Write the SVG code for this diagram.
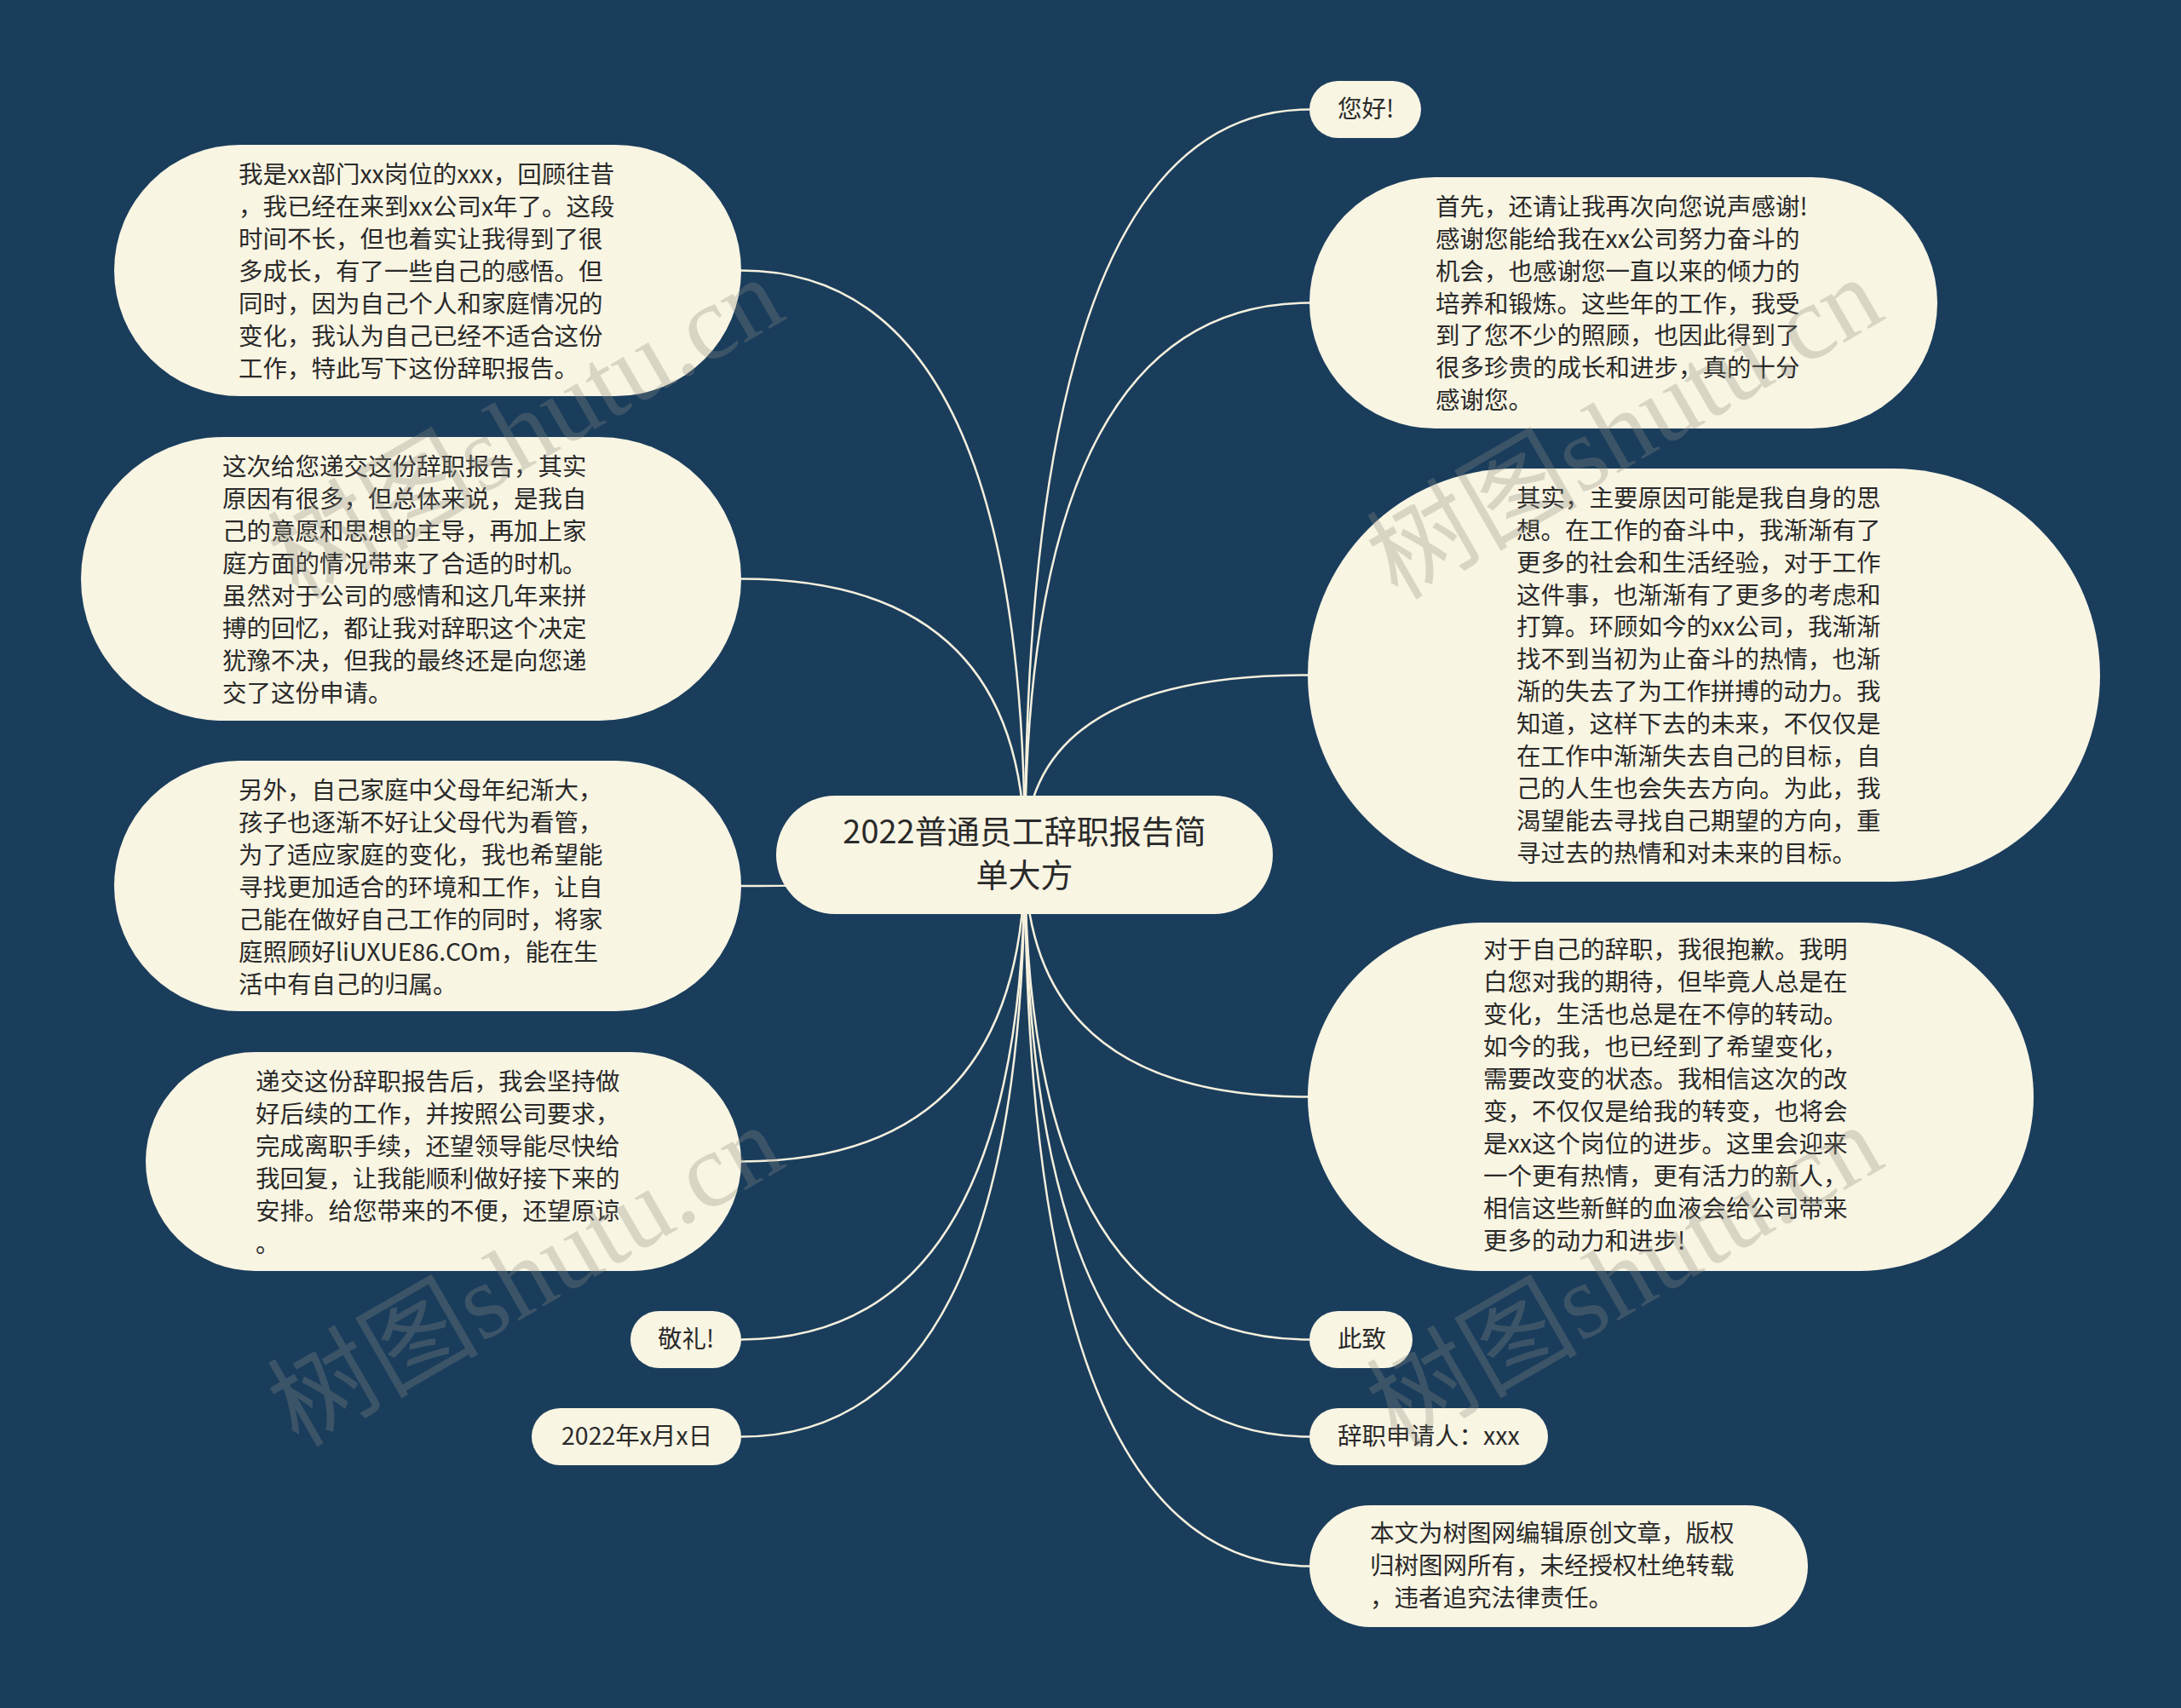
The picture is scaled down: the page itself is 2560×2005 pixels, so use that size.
<svg xmlns="http://www.w3.org/2000/svg" width="2560" height="2005" viewBox="0 0 2560 2005">
<defs>
<style>
.bg{fill:#1a3d5c}
.node{fill:#f9f5e3}
.t{font-family:"Noto Sans CJK SC","Noto Sans",sans-serif;font-size:28.5px;fill:#2a2a2a}
.root{font-size:38px;text-anchor:middle}
.edge{fill:none;stroke:#f5f0dd;stroke-width:2.5}
.wm{font-family:"Liberation Serif","Noto Sans CJK SC",serif;font-size:124px;fill:#8a8a80;fill-opacity:0.3}
</style>
</defs>
<rect class="bg" x="0" y="0" width="2560" height="2005"/>
<g id="connectors">
<path class="edge" d="M1203 1003.5 Q1203 317.5 870 317.5"/>
<path class="edge" d="M1203 1003.5 Q1203 679.5 870 679.5"/>
<path class="edge" d="M1203 1003.5 Q1203 1040 870 1040"/>
<path class="edge" d="M1203 1003.5 Q1203 1363.5 870 1363.5"/>
<path class="edge" d="M1203 1003.5 Q1203 1572.5 870 1572.5"/>
<path class="edge" d="M1203 1003.5 Q1203 1686.5 870 1686.5"/>
<path class="edge" d="M1203 1003.5 Q1203 128.5 1537 128.5"/>
<path class="edge" d="M1203 1003.5 Q1203 355.5 1537 355.5"/>
<path class="edge" d="M1203 1003.5 Q1203 792.5 1535 792.5"/>
<path class="edge" d="M1203 1003.5 Q1203 1287.5 1535 1287.5"/>
<path class="edge" d="M1203 1003.5 Q1203 1572.5 1537 1572.5"/>
<path class="edge" d="M1203 1003.5 Q1203 1686.5 1537 1686.5"/>
<path class="edge" d="M1203 1003.5 Q1203 1838.5 1537 1838.5"/>
</g>
<g id="root">
<rect class="node" x="911" y="934" width="583" height="139" rx="69.5"/>
<text class="t root" x="1202.5" y="990">2022普通员工辞职报告简</text>
<text class="t root" x="1202.5" y="1041">单大方</text>
</g>
<g id="node-l1">
<rect class="node" x="134" y="170" width="736" height="295" rx="147.5"/>
<text class="t" x="280"><tspan x="280" y="215">我是xx部门xx岗位的xxx，回顾往昔</tspan><tspan x="280" y="253">，我已经在来到xx公司x年了。这段</tspan><tspan x="280" y="291">时间不长，但也着实让我得到了很</tspan><tspan x="280" y="329">多成长，有了一些自己的感悟。但</tspan><tspan x="280" y="367">同时，因为自己个人和家庭情况的</tspan><tspan x="280" y="405">变化，我认为自己已经不适合这份</tspan><tspan x="280" y="443">工作，特此写下这份辞职报告。</tspan></text>
</g>
<g id="node-l2">
<rect class="node" x="95" y="513" width="775" height="333" rx="166.5"/>
<text class="t" x="261"><tspan x="261" y="558">这次给您递交这份辞职报告，其实</tspan><tspan x="261" y="596">原因有很多，但总体来说，是我自</tspan><tspan x="261" y="634">己的意愿和思想的主导，再加上家</tspan><tspan x="261" y="672">庭方面的情况带来了合适的时机。</tspan><tspan x="261" y="710">虽然对于公司的感情和这几年来拼</tspan><tspan x="261" y="748">搏的回忆，都让我对辞职这个决定</tspan><tspan x="261" y="786">犹豫不决，但我的最终还是向您递</tspan><tspan x="261" y="824">交了这份申请。</tspan></text>
</g>
<g id="node-l3">
<rect class="node" x="134" y="893" width="736" height="294" rx="147"/>
<text class="t" x="280"><tspan x="280" y="938">另外，自己家庭中父母年纪渐大，</tspan><tspan x="280" y="976">孩子也逐渐不好让父母代为看管，</tspan><tspan x="280" y="1014">为了适应家庭的变化，我也希望能</tspan><tspan x="280" y="1052">寻找更加适合的环境和工作，让自</tspan><tspan x="280" y="1090">己能在做好自己工作的同时，将家</tspan><tspan x="280" y="1128">庭照顾好liUXUE86.COm，能在生</tspan><tspan x="280" y="1166">活中有自己的归属。</tspan></text>
</g>
<g id="node-l4">
<rect class="node" x="171" y="1235" width="699" height="257" rx="128.5"/>
<text class="t" x="300"><tspan x="300" y="1280">递交这份辞职报告后，我会坚持做</tspan><tspan x="300" y="1318">好后续的工作，并按照公司要求，</tspan><tspan x="300" y="1356">完成离职手续，还望领导能尽快给</tspan><tspan x="300" y="1394">我回复，让我能顺利做好接下来的</tspan><tspan x="300" y="1432">安排。给您带来的不便，还望原谅</tspan><tspan x="300" y="1470">。</tspan></text>
</g>
<g id="node-l5">
<rect class="node" x="740" y="1539" width="130" height="67" rx="33.5"/>
<text class="t" x="772" y="1582">敬礼!</text>
</g>
<g id="node-l6">
<rect class="node" x="624" y="1653" width="246" height="67" rx="33.5"/>
<text class="t" x="659" y="1696">2022年x月x日</text>
</g>
<g id="node-r1">
<rect class="node" x="1537" y="95" width="131" height="67" rx="33.5"/>
<text class="t" x="1570" y="138">您好!</text>
</g>
<g id="node-r2">
<rect class="node" x="1537" y="208" width="737" height="295" rx="147.5"/>
<text class="t" x="1685"><tspan x="1685" y="253">首先，还请让我再次向您说声感谢!</tspan><tspan x="1685" y="291">感谢您能给我在xx公司努力奋斗的</tspan><tspan x="1685" y="329">机会，也感谢您一直以来的倾力的</tspan><tspan x="1685" y="367">培养和锻炼。这些年的工作，我受</tspan><tspan x="1685" y="404">到了您不少的照顾，也因此得到了</tspan><tspan x="1685" y="442">很多珍贵的成长和进步，真的十分</tspan><tspan x="1685" y="480">感谢您。</tspan></text>
</g>
<g id="node-r3">
<rect class="node" x="1535" y="550" width="930" height="485" rx="242.5"/>
<text class="t" x="1780"><tspan x="1780" y="595">其实，主要原因可能是我自身的思</tspan><tspan x="1780" y="633">想。在工作的奋斗中，我渐渐有了</tspan><tspan x="1780" y="671">更多的社会和生活经验，对于工作</tspan><tspan x="1780" y="709">这件事，也渐渐有了更多的考虑和</tspan><tspan x="1780" y="746">打算。环顾如今的xx公司，我渐渐</tspan><tspan x="1780" y="784">找不到当初为止奋斗的热情，也渐</tspan><tspan x="1780" y="822">渐的失去了为工作拼搏的动力。我</tspan><tspan x="1780" y="860">知道，这样下去的未来，不仅仅是</tspan><tspan x="1780" y="898">在工作中渐渐失去自己的目标，自</tspan><tspan x="1780" y="936">己的人生也会失去方向。为此，我</tspan><tspan x="1780" y="974">渴望能去寻找自己期望的方向，重</tspan><tspan x="1780" y="1012">寻过去的热情和对未来的目标。</tspan></text>
</g>
<g id="node-r4">
<rect class="node" x="1535" y="1083" width="852" height="409" rx="204.5"/>
<text class="t" x="1741"><tspan x="1741" y="1125">对于自己的辞职，我很抱歉。我明</tspan><tspan x="1741" y="1163">白您对我的期待，但毕竟人总是在</tspan><tspan x="1741" y="1201">变化，生活也总是在不停的转动。</tspan><tspan x="1741" y="1239">如今的我，也已经到了希望变化，</tspan><tspan x="1741" y="1277">需要改变的状态。我相信这次的改</tspan><tspan x="1741" y="1315">变，不仅仅是给我的转变，也将会</tspan><tspan x="1741" y="1353">是xx这个岗位的进步。这里会迎来</tspan><tspan x="1741" y="1391">一个更有热情，更有活力的新人，</tspan><tspan x="1741" y="1429">相信这些新鲜的血液会给公司带来</tspan><tspan x="1741" y="1467">更多的动力和进步!</tspan></text>
</g>
<g id="node-r5">
<rect class="node" x="1537" y="1539" width="121" height="67" rx="33.5"/>
<text class="t" x="1570" y="1582">此致</text>
</g>
<g id="node-r6">
<rect class="node" x="1537" y="1653" width="280" height="67" rx="33.5"/>
<text class="t" x="1570" y="1696">辞职申请人：xxx</text>
</g>
<g id="node-r7">
<rect class="node" x="1537" y="1767" width="585" height="143" rx="71.5"/>
<text class="t" x="1608"><tspan x="1608" y="1810">本文为树图网编辑原创文章，版权</tspan><tspan x="1608" y="1848">归树图网所有，未经授权杜绝转载</tspan><tspan x="1608" y="1886">，违者追究法律责任。</tspan></text>
</g>
<g id="watermarks">
<text class="wm" transform="translate(350 705) rotate(-30)">树图shutu.cn</text>
<text class="wm" transform="translate(1640 705) rotate(-30)">树图shutu.cn</text>
<text class="wm" transform="translate(350 1700) rotate(-30)">树图shutu.cn</text>
<text class="wm" transform="translate(1640 1700) rotate(-30)">树图shutu.cn</text>
</g>
</svg>
